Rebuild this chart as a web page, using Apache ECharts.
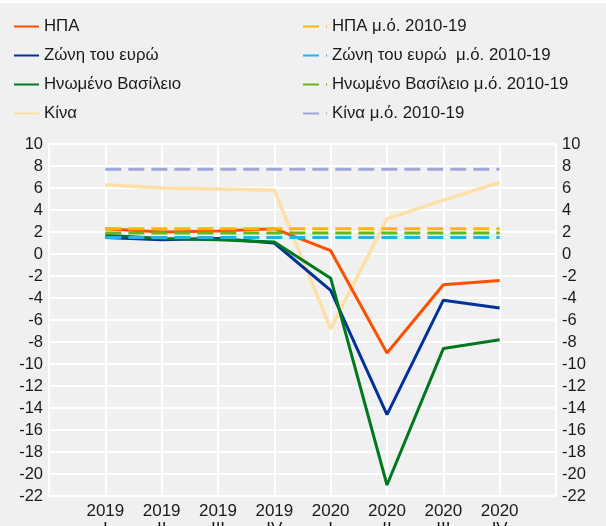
<!DOCTYPE html>
<html>
<head>
<meta charset="utf-8">
<script src="https://cdn.jsdelivr.net/npm/echarts@6/dist/echarts.min.js"></script>
<style>
  html, body { margin: 0; padding: 0; background: #f0f0f0; }
  #chart { width: 606px; height: 526px; }
</style>
</head>
<body>
<div id="chart"></div>
<script>
// quarters (yoy % change of real GDP)
var quarters = ['2019\nI', '2019\nII', '2019\nIII', '2019\nIV', '2020\nI', '2020\nII', '2020\nIII', '2020\nIV'];

var usa   = [2.3, 2.0, 2.1, 2.3, 0.3, -9.0, -2.8, -2.4];
var euro  = [1.5, 1.3, 1.4, 1.0, -3.3, -14.6, -4.2, -4.9];
var uk    = [1.7, 1.4, 1.3, 1.1, -2.2, -21.0, -8.6, -7.8];
var china = [6.3, 6.0, 5.9, 5.8, -6.8, 3.2, 4.9, 6.5];

// averages 2010-19
var usaAvg = 2.3;
var euroAvg = 1.5;
var ukAvg = 1.9;
var chinaAvg = 7.7;

var yTicks = { min: -22, max: 10, interval: 2 };

// empty slot on each side so the points sit away from the plot edges
var cats = [''].concat(quarters).concat(['']);
function pad(arr) { return [null].concat(arr).concat([null]); }
function flat(v) { return pad(quarters.map(function () { return v; })); }

var font = 'Liberation Sans, Arial, sans-serif';

function solid(name, color, data, w) {
  return {
    name: name, type: 'line', data: pad(data), symbol: 'none',
    lineStyle: { color: color, width: w || 3 }, itemStyle: { color: color },
    z: 2
  };
}
function dashed(name, color, v) {
  return {
    name: name, type: 'line', data: flat(v), symbol: 'none',
    lineStyle: { color: color, width: 3, type: [16, 7] }, itemStyle: { color: color },
    z: 3
  };
}

var legendBase = {
  orient: 'vertical', top: 18, padding: 0,
  itemHeight: 16, itemGap: 12,
  itemStyle: { opacity: 0 },
  textStyle: { fontSize: 16.8, lineHeight: 16, color: '#1a1a1a', fontFamily: font }
};

var myChart = echarts.init(document.getElementById('chart'));
myChart.setOption({
  backgroundColor: '#f0f0f0',
  animation: false,
  textStyle: { fontFamily: font },
  graphic: [{
    type: 'rect', left: 0, top: 0,
    shape: { width: 606, height: 3 },
    style: { fill: '#ffffff' }
  }],
  legend: [
    Object.assign({}, legendBase, {
      left: 13, itemWidth: 25,
      data: ['ΗΠΑ', 'Ζώνη του ευρώ', 'Ηνωμένο Βασίλειο', 'Κίνα']
    }),
    Object.assign({}, legendBase, {
      left: 302, itemWidth: 24,
      data: ['ΗΠΑ μ.ό. 2010-19', 'Ζώνη του ευρώ  μ.ό. 2010-19', 'Ηνωμένο Βασίλειο μ.ό. 2010-19', 'Κίνα μ.ό. 2010-19']
    })
  ],
  grid: { left: 49, right: 50, top: 144, bottom: 30, outerBoundsMode: 'none' },
  xAxis: {
    type: 'category',
    boundaryGap: false,
    data: cats,
    axisLine: { show: false },
    axisTick: { show: false },
    axisLabel: { fontSize: 17, color: '#1a1a1a', lineHeight: 18, margin: 6, interval: 0 },
    splitLine: { show: true, lineStyle: { color: '#ffffff', width: 2 } }
  },
  yAxis: [
    {
      type: 'value', min: yTicks.min, max: yTicks.max, interval: yTicks.interval,
      axisLine: { show: false }, axisTick: { show: false },
      axisLabel: { fontSize: 16.5, color: '#1a1a1a', margin: 6 },
      splitLine: { lineStyle: { color: '#ffffff', width: 2 } }
    },
    {
      type: 'value', min: yTicks.min, max: yTicks.max, interval: yTicks.interval,
      position: 'right',
      axisLine: { show: false }, axisTick: { show: false },
      axisLabel: { fontSize: 16.5, color: '#1a1a1a', margin: 6 },
      splitLine: { show: false }
    }
  ],
  series: [
    solid('Κίνα', '#ffdfa8', china, 3.5),
    solid('ΗΠΑ', '#ff5000', usa),
    solid('Ζώνη του ευρώ', '#003399', euro),
    solid('Ηνωμένο Βασίλειο', '#00781e', uk),
    dashed('ΗΠΑ μ.ό. 2010-19', '#ffb400', usaAvg),
    dashed('Ζώνη του ευρώ  μ.ό. 2010-19', '#1cb4ea', euroAvg),
    dashed('Ηνωμένο Βασίλειο μ.ό. 2010-19', '#6ab41e', ukAvg),
    dashed('Κίνα μ.ό. 2010-19', '#9ea8d8', chinaAvg)
  ]
});
</script>
</body>
</html>
